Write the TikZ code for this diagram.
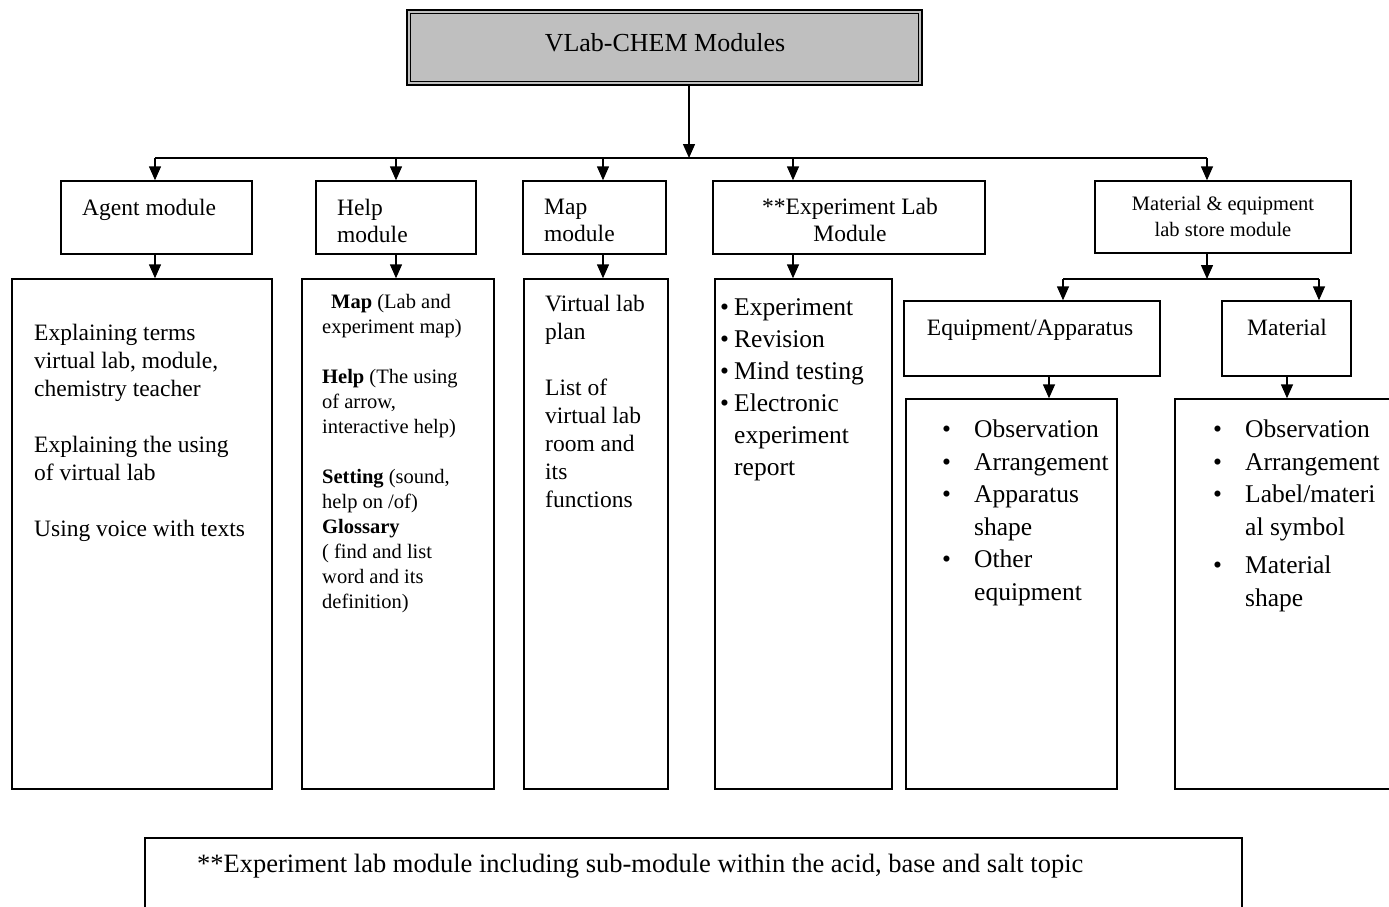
\documentclass[tikz,border=0pt]{standalone}
\usepackage{fontspec}
\setmainfont{Liberation Serif}
\usetikzlibrary{arrows.meta,calc}
\newcommand\fsMain{\fontsize{23.5}{28}\selectfont}
\newcommand\fsHead{\fontsize{23.5}{27}\selectfont}
\newcommand\fsSmall{\fontsize{20.5}{25}\selectfont}
\newcommand\fsSmallHead{\fontsize{20.5}{26}\selectfont}
\newcommand\fsBig{\fontsize{25.5}{32}\selectfont}
\newcommand\fsBigB{\fontsize{25.5}{32.5}\selectfont}
\newcommand\fsNote{\fontsize{26.5}{30}\selectfont}
\newcommand\bl[1]{\makebox[#1][l]{•}}
\begin{document}
\begin{tikzpicture}[x=1pt,y=-1pt,
  box/.style={draw, line width=1.4pt, inner sep=0pt},
  conn/.style={line width=1.4pt},
  arr/.style={line width=1.4pt, -{Triangle[width=12pt,length=14pt]}},
  txt/.style={inner sep=0pt, align=left},
]
\useasboundingbox (0,0) rectangle (1389,907);
% title
\node[box, line width=2.6pt, fill=black!25, minimum width=515pt, minimum height=75pt] (title) at (664.5,47.5) {};
\draw[line width=0.8pt] ([shift={(5,5)}]title.north west) rectangle ([shift={(-5,-5)}]title.south east);
\node[txt, font=\fontsize{26}{30}\selectfont] (titleText) at (665,43) {VLab-CHEM Modules};
% row 1 boxes
\node[box, minimum width=191pt, minimum height=73pt] (agent) at (156.5,217.5) {};
\node[box, minimum width=160pt, minimum height=73pt] (help) at (396,217.5) {};
\node[box, minimum width=143pt, minimum height=73pt] (map) at (594.5,217.5) {};
\node[box, minimum width=272pt, minimum height=73pt] (exp) at (849,217.5) {};
\node[box, minimum width=256pt, minimum height=72pt] (mat) at (1223,217) {};
% row 2 boxes
\node[box, minimum width=260pt, minimum height=510pt] (agentC) at (142,534) {};
\node[box, minimum width=192pt, minimum height=510pt] (helpC) at (398,534) {};
\node[box, minimum width=144pt, minimum height=510pt] (mapC) at (596,534) {};
\node[box, minimum width=177pt, minimum height=510pt] (expC) at (803.5,534) {};
\node[box, minimum width=256pt, minimum height=75pt] (equip) at (1032,338.5) {};
\node[box, minimum width=129pt, minimum height=75pt] (matl) at (1286.5,338.5) {};
\node[box, minimum width=211pt, minimum height=390pt] (equipC) at (1011.5,594) {};
\node[box, minimum width=225pt, minimum height=390pt] (matlC) at (1287.5,594) {};
\node[box, minimum width=1097pt, minimum height=82pt] (note) at (693.5,879) {};
% connectors
\coordinate (t0) at (689,158);
\coordinate (b1) at (155,158);
\coordinate (b2) at (396,158);
\coordinate (b3) at (603,158);
\coordinate (b4) at (793,158);
\coordinate (b5) at (1207,158);
\draw[arr] (title.south -| t0) -- (t0);
\draw[conn] (b1) -- (b5);
\draw[arr] (b1) -- (b1 |- agent.north);
\draw[arr] (b2) -- (b2 |- help.north);
\draw[arr] (b3) -- (b3 |- map.north);
\draw[arr] (b4) -- (b4 |- exp.north);
\draw[arr] (b5) -- (b5 |- mat.north);
\draw[arr] (agent.south -| b1) -- (agentC.north -| b1);
\draw[arr] (help.south -| b2) -- (helpC.north -| b2);
\draw[arr] (map.south -| b3) -- (mapC.north -| b3);
\draw[arr] (exp.south -| b4) -- (expC.north -| b4);
\coordinate (m0) at (1207,279);
\coordinate (m1) at (1063,279);
\coordinate (m2) at (1319,279);
\draw[arr] (mat.south -| m0) -- (m0);
\draw[conn] (m1) -- (m2);
\draw[arr] (m1) -- (m1 |- equip.north);
\draw[arr] (m2) -- (m2 |- matl.north);
\coordinate (e1) at (1049,300);
\coordinate (e2) at (1287,300);
\draw[arr] (equip.south -| e1) -- (equipC.north -| e1);
\draw[arr] (matl.south -| e2) -- (matlC.north -| e2);
% row 1 texts
\node[txt, anchor=base west, font=\fsMain] (tAgent) at (82,215) {Agent module};
\node[txt, anchor=north west, font=\fsHead] (tHelp) at (337,199) {Help\\module};
\node[txt, anchor=north west, font=\fsHead] (tMap) at (544,199) {Map\\module};
\node[txt, anchor=north, align=center, font=\fsHead] (tExp) at (850,198) {**Experiment Lab\\Module};
\node[txt, anchor=north, align=center, font=\fsSmallHead] (tMat) at (1223,196) {Material \& equipment\\lab store module};
\node[txt, anchor=base, font=\fsMain] (tEquip) at (1030,335) {Equipment/Apparatus};
\node[txt, anchor=base, font=\fsMain] (tMatl) at (1287,335) {Material};
% content texts
\node[txt, anchor=north west, font=\fsMain] (cAgent) at (34,324)
  {Explaining terms\\virtual lab, module,\\chemistry teacher\\[28pt]Explaining the using\\of virtual lab\\[28pt]Using voice with texts};
\node[txt, anchor=north west, font=\fsSmall] (cHelp) at (322,294)
  {\hspace*{9pt}\textbf{Map} (Lab and\\experiment map)\\[25pt]\textbf{Help} (The using\\of arrow,\\interactive help)\\[25pt]\textbf{Setting} (sound,\\help on /of)\\\textbf{Glossary}\\( find and list\\word and its\\definition)};
\node[txt, anchor=north west, font=\fsMain] (cMap) at (545,295)
  {Virtual lab\\plan\\[28pt]List of\\virtual lab\\room and\\its\\functions};
\node[txt, anchor=north west, font=\fsBig] (cExp) at (720,298)
  {\bl{14pt}Experiment\\\bl{14pt}Revision\\\bl{14pt}Mind testing\\\bl{14pt}Electronic\\\hspace*{14pt}experiment\\\hspace*{14pt}report};
\node[txt, anchor=north west, font=\fsBigB] (cEquip) at (942,420)
  {\bl{32pt}Observation\\\bl{32pt}Arrangement\\\bl{32pt}Apparatus\\\hspace*{32pt}shape\\\bl{32pt}Other\\\hspace*{32pt}equipment};
\node[txt, anchor=north west, font=\fsBigB] (cMatl) at (1213,420)
  {\bl{32pt}Observation\\\bl{32pt}Arrangement\\\bl{32pt}Label/materi\\\hspace*{32pt}al symbol\\[6pt]\bl{32pt}Material\\\hspace*{32pt}shape};
\node[txt, anchor=base west, font=\fsNote] (cNote) at (197,872)
  {**Experiment lab module including sub-module within the acid, base and salt topic};
\end{tikzpicture}
\end{document}
